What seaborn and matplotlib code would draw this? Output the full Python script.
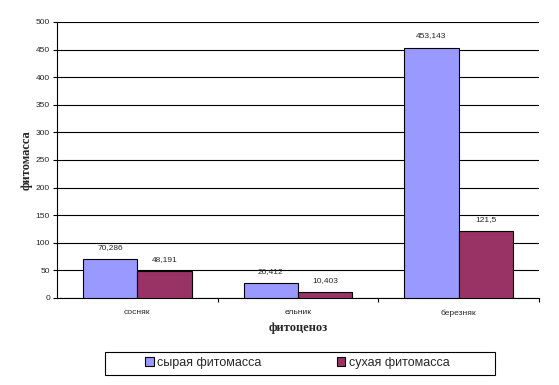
import matplotlib
matplotlib.use('Agg')
import matplotlib.pyplot as plt
import seaborn as sns
import pandas as pd
from matplotlib.ticker import FixedLocator
from matplotlib.patches import Rectangle

categories = ["сосняк", "ельник", "березняк"]
series = ["сырая фитомасса", "сухая фитомасса"]
raw_mass = [70.286, 26.412, 453.143]
dry_mass = [48.191, 10.403, 121.5]
value_labels = {
    "сырая фитомасса": ["70,286", "26,412", "453,143"],
    "сухая фитомасса": ["48,191", "10,403", "121,5"],
}
colors = ["#9999FF", "#993366"]

df = pd.DataFrame({
    "фитоценоз": categories * 2,
    "серия": [series[0]] * 3 + [series[1]] * 3,
    "фитомасса": raw_mass + dry_mass,
})

sns.set_style("white")
plt.rcParams['font.family'] = ['Liberation Sans', 'DejaVu Sans']

fig = plt.figure(figsize=(5.59, 3.85), dpi=100)
ax = fig.add_axes([0.102, 0.226, 0.862, 0.717])

sns.barplot(data=df, x="фитоценоз", y="фитомасса", hue="серия", order=categories,
            hue_order=series, palette=colors, width=0.675, edgecolor="black",
            linewidth=0.8, saturation=1, ax=ax, legend=True, zorder=3)

for cont, s in zip(ax.containers, series):
    ax.bar_label(cont, labels=value_labels[s], padding=6, fontsize=6)

ax.set_ylim(0, 500)
ax.set_yticks(range(0, 501, 50))
ax.yaxis.grid(True, color="black", linewidth=0.8, zorder=0)
ax.set_xlim(-0.5, 2.5)
ax.tick_params(axis="y", labelsize=6, length=3, width=0.8, color="black", left=True, pad=2)
ax.tick_params(axis="x", which="major", labelsize=6, length=0, pad=8)
ax.xaxis.set_minor_locator(FixedLocator([0.5, 1.5, 2.5]))
ax.tick_params(axis="x", which="minor", length=3, width=0.8, color="black", bottom=True)

for side in ["top", "right"]:
    ax.spines[side].set_visible(False)
for side in ["left", "bottom"]:
    ax.spines[side].set_color("black")
    ax.spines[side].set_linewidth(0.8)

ax.set_ylabel("фитомасса", fontsize=9, fontweight="bold", family=["Liberation Serif"], labelpad=2)
ax.set_xlabel("фитоценоз", fontsize=9, fontweight="bold", family=["Liberation Serif"], labelpad=4)

handles, labels = ax.get_legend_handles_labels()
ax.get_legend().remove()
fig.legend(handles, labels, loc="center", bbox_to_anchor=(0.532, 0.057), ncol=2,
           frameon=False, fontsize=9, handlelength=0.7, handleheight=0.7,
           handletextpad=0.3, columnspacing=6, borderpad=0)
fig.patches.append(Rectangle((105 / 559, 1 - 375 / 385), 390 / 559, 23 / 385,
                             transform=fig.transFigure, fill=False,
                             edgecolor="black", linewidth=0.8))

fig.savefig("out.png", dpi=100)
